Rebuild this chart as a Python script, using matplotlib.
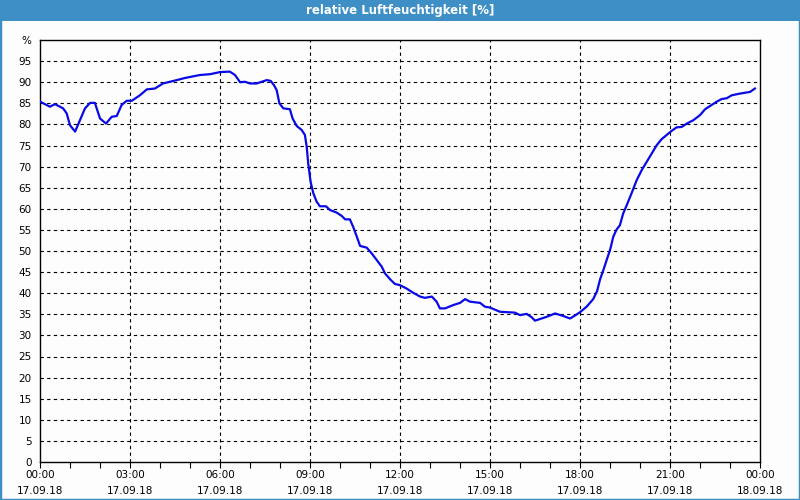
import matplotlib
matplotlib.use("Agg")
import matplotlib.pyplot as plt
from matplotlib.patches import Rectangle
from matplotlib.ticker import MultipleLocator

title = "relative Luftfeuchtigkeit [%]"

hours = [0.0, 0.33, 0.5, 0.77, 0.89, 1.0, 1.17, 1.5, 1.67, 1.83, 2.0, 2.2, 2.39, 2.56, 2.72,
         2.89, 3.06, 3.33, 3.56, 3.83, 4.1, 4.56, 4.83, 5.33, 5.67, 6.0, 6.33, 6.5, 6.67,
         6.83, 7.0, 7.22, 7.39, 7.56, 7.69, 7.8, 7.89, 7.98, 8.11, 8.33, 8.42, 8.56, 8.72,
         8.83, 8.89, 8.94, 9.02, 9.11, 9.22, 9.33, 9.53, 9.67, 9.89, 10.06, 10.17, 10.33,
         10.44, 10.56, 10.67, 10.89, 11.06, 11.22, 11.39, 11.5, 11.67, 11.83, 12.0, 12.22,
         12.44, 12.67, 12.83, 13.06, 13.22, 13.33, 13.5, 13.78, 14.0, 14.17, 14.33, 14.67,
         14.83, 15.0, 15.33, 15.83, 16.0, 16.22, 16.39, 16.5, 16.67, 16.89, 17.17, 17.44,
         17.67, 17.83, 18.0, 18.22, 18.44, 18.57, 18.67, 18.78, 18.89, 19.0, 19.11, 19.22,
         19.33, 19.44, 19.56, 19.72, 19.89, 20.06, 20.22, 20.39, 20.56, 20.72, 20.89, 21.06,
         21.22, 21.39, 21.56, 21.78, 22.0, 22.17, 22.39, 22.56, 22.72, 22.89, 23.06, 23.33,
         23.67, 23.83]
humidity = [85.4, 84.2, 84.8, 83.8, 82.6, 79.8, 78.3, 83.8, 85.1, 85.1, 81.4, 80.2, 81.8, 82.0,
            84.6, 85.6, 85.6, 86.9, 88.3, 88.5, 89.7, 90.5, 91.0, 91.7, 91.9, 92.4, 92.5, 91.7,
            90.0, 90.1, 89.7, 89.7, 90.1, 90.5, 90.3, 89.3, 88.1, 85.0, 83.8, 83.6, 81.4, 79.6,
            78.7, 77.5, 74.7, 70.8, 66.4, 63.7, 61.7, 60.6, 60.6, 59.7, 59.1, 58.3, 57.5, 57.5,
            55.7, 53.4, 51.2, 50.8, 49.4, 47.9, 46.3, 44.7, 43.3, 42.2, 41.9, 41.1, 40.1, 39.2,
            38.9, 39.2, 38.0, 36.4, 36.4, 37.2, 37.7, 38.6, 38.0, 37.7, 36.8, 36.6, 35.6, 35.4,
            34.8, 35.1, 34.3, 33.5, 33.9, 34.4, 35.2, 34.6, 34.0, 34.7, 35.5, 36.8, 38.6, 40.5,
            43.3, 45.5, 47.9, 50.2, 53.4, 55.1, 56.1, 58.9, 60.9, 63.7, 66.8, 69.2, 71.1, 73.1,
            75.1, 76.5, 77.5, 78.5, 79.3, 79.4, 80.2, 81.0, 82.2, 83.6, 84.6, 85.4, 86.0, 86.2,
            86.9, 87.3, 87.7, 88.5]

x_ticks = [0, 3, 6, 9, 12, 15, 18, 21, 24]
x_labels = ["00:00\n17.09.18", "03:00\n17.09.18", "06:00\n17.09.18", "09:00\n17.09.18",
            "12:00\n17.09.18", "15:00\n17.09.18", "18:00\n17.09.18", "21:00\n17.09.18",
            "00:00\n18.09.18"]
y_ticks = list(range(0, 101, 5))
y_labels = [str(v) for v in range(0, 96, 5)] + ["%"]

plt.rcParams['font.family'] = ['DejaVu Sans']

fig = plt.figure(figsize=(8, 5), dpi=100)
fig.patch.set_facecolor("#fcfdfc")

# frame and title bar
fig.patches.append(Rectangle((0, 0), 1, 1, transform=fig.transFigure, facecolor="none",
                             edgecolor="#3d8fc6", linewidth=2.5, zorder=0))
fig.patches.append(Rectangle((0, 0.958), 1, 0.042, transform=fig.transFigure,
                             facecolor="#3d8fc6", edgecolor="none", zorder=1))
fig.text(0.5, 0.979, title, color="white", fontsize=8.5, fontweight="bold",
         ha="center", va="center")

ax = fig.add_axes([0.05, 0.076, 0.90, 0.844])
ax.set_facecolor("#fcfdfc")
ax.plot(hours, humidity, color="#0a0ae6", linewidth=1.6, zorder=3)

ax.set_xlim(0, 24)
ax.set_ylim(0, 100)
ax.set_xticks(x_ticks)
ax.set_xticklabels(x_labels, fontsize=7.5, linespacing=1.75)
ax.xaxis.set_minor_locator(MultipleLocator(1))
ax.set_yticks(y_ticks)
ax.set_yticklabels(y_labels, fontsize=7.5)

ax.tick_params(axis="x", which="both", direction="out", length=4, width=0.8, pad=1.5,
               colors="black")
ax.tick_params(axis="y", length=0, pad=6)

for v in y_ticks[1:-1]:
    ax.axhline(v, color="black", linewidth=0.8, linestyle=(0, (3, 3)), zorder=1)
for v in x_ticks[1:-1]:
    ax.axvline(v, color="black", linewidth=0.8, linestyle=(0, (3, 3)), zorder=1)

for s in ax.spines.values():
    s.set_color("black")
    s.set_linewidth(1.0)

fig.savefig("out.png", dpi=100, facecolor=fig.get_facecolor())
